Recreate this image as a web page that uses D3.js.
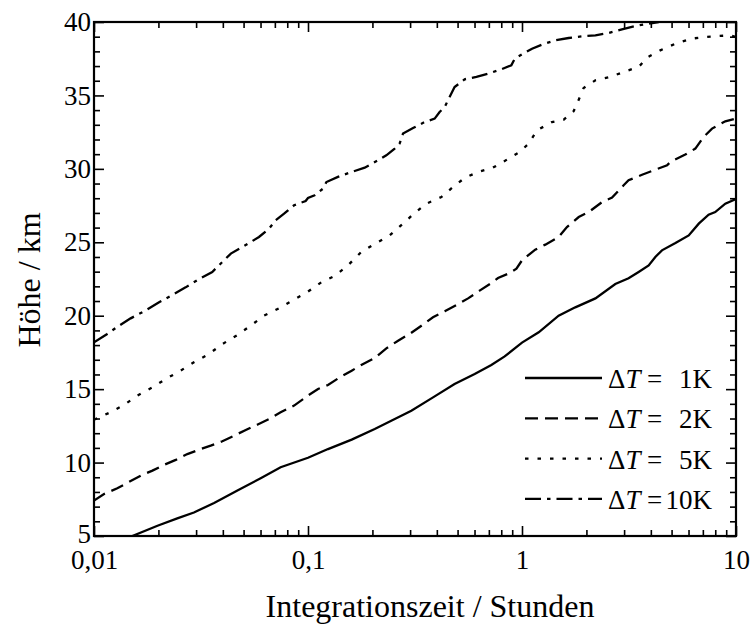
<!DOCTYPE html>
<html><head><meta charset="utf-8">
<script src="https://cdn.jsdelivr.net/npm/d3@7"></script>
</head>
<body style="margin:0;background:#fff">
<svg id="fig" width="752" height="625" style="display:block"></svg>
<script>
// ---- data (time in hours, height in km) ----
const t1K = [0.0151,0.0198,0.0245,0.0293,0.0364,0.0468,0.0601,0.0745,0.1,0.124,0.160,0.205,0.245,0.304,0.384,0.484,0.601,0.719,0.830,1.0,1.197,1.483,1.774,2.203,2.729,3.148,3.508,3.908,4.198,4.508,5.212,6.012,6.699,7.447,7.998,8.913,10];
const h1K = [5.0,5.7,6.2,6.6,7.25,8.1,8.93,9.68,10.33,10.92,11.56,12.29,12.85,13.53,14.44,15.35,16.03,16.64,17.23,18.17,18.87,20.0,20.57,21.18,22.16,22.55,22.98,23.43,24.0,24.45,24.95,25.47,26.27,26.88,27.06,27.63,27.95];

const t2K = [0.01,0.01114,0.01285,0.01652,0.01875,0.02123,0.0241,0.0273,0.031,0.0351,0.0398,0.0451,0.0512,0.0579,0.0658,0.0745,0.0861,0.1,0.1114,0.124,0.1406,0.160,0.1774,0.205,0.2323,0.2636,0.2985,0.3388,0.3837,0.4355,0.4932,0.5598,0.6339,0.7194,0.7727,0.861,0.9419,1.0,1.153,1.285,1.483,1.622,1.841,2.051,2.366,2.636,2.985,3.148,3.639,4.121,4.764,4.932,5.794,6.457,7.063,7.727,8.913,10];
const h2K = [7.41,7.86,8.25,9.11,9.45,9.84,10.18,10.58,10.88,11.15,11.45,11.83,12.22,12.58,12.97,13.42,13.88,14.56,15.01,15.28,15.8,16.26,16.64,17.12,17.78,18.3,18.76,19.32,19.89,20.3,20.73,21.18,21.71,22.23,22.57,22.86,23.2,23.77,24.5,24.84,25.36,26.04,26.72,27.06,27.74,28.04,28.88,29.22,29.6,29.9,30.24,30.47,30.97,31.38,32.17,32.74,33.24,33.42];

const t5K = [0.01,0.01175,0.0138,0.01596,0.01875,0.02163,0.0254,0.0293,0.0344,0.0398,0.0468,0.054,0.0622,0.0731,0.0861,0.1,0.1153,0.1334,0.1538,0.1774,0.2084,0.241,0.278,0.3126,0.3573,0.4198,0.4764,0.5395,0.6223,0.7311,0.830,0.975,1.074,1.175,1.380,1.567,1.742,1.841,1.941,2.203,2.588,2.985,3.508,3.882,4.426,5.212,6.223,7.194,8.299,9.419,10];
const h5K = [12.92,13.38,13.92,14.56,15.12,15.69,16.26,16.83,17.39,18.07,18.69,19.32,20.0,20.5,21.09,21.64,22.27,22.71,23.43,24.34,24.95,25.47,26.27,26.95,27.63,28.08,28.77,29.38,29.79,30.08,30.54,31.15,31.72,32.62,33.19,33.35,33.92,34.71,35.51,36.03,36.26,36.6,36.94,37.62,38.07,38.52,38.87,38.98,39.05,39.09,38.98];

const t10K = [0.01,0.01153,0.01309,0.01483,0.01714,0.02014,0.02366,0.0268,0.031,0.0357,0.0398,0.0436,0.0484,0.054,0.059,0.0658,0.0706,0.0773,0.0861,0.0975,0.1,0.1074,0.1175,0.1219,0.138,0.160,0.1841,0.2123,0.2323,0.2541,0.2679,0.278,0.3097,0.3508,0.3908,0.4121,0.4355,0.4508,0.4842,0.5395,0.6124,0.6934,0.7998,0.8913,0.9247,1.0,1.114,1.239,1.432,1.652,1.905,2.203,2.541,2.931,3.388,3.908,4.355];
const h10K = [18.19,18.76,19.32,19.82,20.3,20.91,21.48,21.93,22.5,22.98,23.66,24.23,24.61,25.02,25.36,25.93,26.5,26.95,27.52,27.81,28.02,28.2,28.65,29.1,29.45,29.79,30.08,30.58,30.92,31.38,31.72,32.4,32.78,33.19,33.42,33.87,34.21,34.67,35.57,36.1,36.26,36.48,36.78,37.05,37.5,37.8,38.18,38.46,38.75,38.91,39.02,39.09,39.25,39.5,39.73,39.89,40.0];

const seriesLabels = ["1K","2K","5K","10K"];
const xMajorTicks = [0.01,0.1,1,10];
const xTickLabels = ["0,01","0,1","1","10"];
const yMajorTicks = [5,10,15,20,25,30,35,40];
const xTitle = "Integrationszeit / Stunden";
const yTitle = "Höhe / km";

// ---- layout ----
const FONT = '"Times New Roman", "Liberation Serif", Tinos, "Nimbus Roman", FreeSerif';
const L = 94, R = 736, T = 22, B = 536;
const svg = d3.select("#fig");
const x = d3.scaleLog().domain([0.01,10]).range([L,R]);
const y = d3.scaleLinear().domain([5,40]).range([B,T]);

const series = [
  {t:t1K, h:h1K, dash:null},
  {t:t2K, h:h2K, dash:"13,7"},
  {t:t5K, h:h5K, dash:"3.5,9"},
  {t:t10K, h:h10K, dash:"16,6,3.5,6"}
];

svg.append("clipPath").attr("id","plotclip").append("rect")
  .attr("x",L).attr("y",T).attr("width",R-L).attr("height",B-T);

const line = d3.line().x(d=>x(d[0])).y(d=>y(d[1]));
const g = svg.append("g").attr("clip-path","url(#plotclip)");
series.forEach(s=>{
  const pts = s.t.map((tt,i)=>[tt,s.h[i]]);
  g.append("path").datum(pts).attr("d",line)
    .attr("fill","none").attr("stroke","#000").attr("stroke-width",2.3)
    .attr("stroke-dasharray",s.dash);
});

function serif(sel, size){
  sel.attr("font-family",FONT).attr("font-size",size)
    .style("font-family",FONT).style("font-size",size+"px");
  return sel;
}

// ---- axes ----
const xMinor = x.ticks().filter(v=>!xMajorTicks.includes(v));
const yMinor = d3.range(5,41,1).filter(v=>v%5!==0);
function styleAxis(sel){
  sel.attr("font-family",FONT);
  sel.select(".domain").remove();
  sel.selectAll(".tick line").attr("stroke","#000").attr("stroke-width",1.6);
  serif(sel.selectAll(".tick text"),27).attr("fill","#000");
}
// bottom
svg.append("g").attr("transform",`translate(0,${B})`)
  .call(d3.axisBottom(x).tickValues(xMinor).tickSize(-6).tickFormat(""))
  .call(styleAxis);
const xb = svg.append("g").attr("transform",`translate(0,${B})`)
  .call(d3.axisBottom(x).tickValues(xMajorTicks).tickSize(-10).tickPadding(22)
    .tickFormat((d,i)=>xTickLabels[i]))
  .call(styleAxis);
xb.selectAll(".tick text").attr("dy","0.4em");
// top
svg.append("g").attr("transform",`translate(0,${T})`)
  .call(d3.axisTop(x).tickValues(xMinor).tickSize(-6).tickFormat(""))
  .call(styleAxis);
svg.append("g").attr("transform",`translate(0,${T})`)
  .call(d3.axisTop(x).tickValues(xMajorTicks).tickSize(-10).tickFormat(""))
  .call(styleAxis);
// left
svg.append("g").attr("transform",`translate(${L},0)`)
  .call(d3.axisLeft(y).tickValues(yMinor).tickSize(-6).tickFormat(""))
  .call(styleAxis);
const yl = svg.append("g").attr("transform",`translate(${L},0)`)
  .call(d3.axisLeft(y).tickValues(yMajorTicks).tickSize(-10).tickPadding(3).tickFormat(d3.format("d")))
  .call(styleAxis);
yl.selectAll(".tick text").filter(d=>d===5).attr("dy","0.25em");
// right
svg.append("g").attr("transform",`translate(${R},0)`)
  .call(d3.axisRight(y).tickValues(yMinor).tickSize(-6).tickFormat(""))
  .call(styleAxis);
svg.append("g").attr("transform",`translate(${R},0)`)
  .call(d3.axisRight(y).tickValues(yMajorTicks).tickSize(-10).tickFormat(""))
  .call(styleAxis);

// frame
svg.append("rect").attr("x",L).attr("y",T).attr("width",R-L).attr("height",B-T)
  .attr("fill","none").attr("stroke","#000").attr("stroke-width",2.2);

// titles
serif(svg.append("text").attr("x",430).attr("y",617).attr("text-anchor","middle"),32).text(xTitle);
serif(svg.append("text").attr("transform","translate(40,280) rotate(-90)")
  .attr("text-anchor","middle"),32).text(yTitle);

// legend
const legY0 = 378, legDy = 40.3;
series.forEach((s,i)=>{
  const yy = legY0 + i*legDy;
  svg.append("line").attr("x1",525).attr("x2",602).attr("y1",yy).attr("y2",yy)
    .attr("stroke","#000").attr("stroke-width",2.3).attr("stroke-dasharray",s.dash);
  const tx = serif(svg.append("text").attr("x",608).attr("y",yy+10),27);
  tx.append("tspan").text("Δ");
  tx.append("tspan").attr("font-style","italic").style("font-style","italic").text("T");
  serif(svg.append("text").attr("x",647).attr("y",yy+10),27).text("=");
  serif(svg.append("text").attr("x",712).attr("y",yy+10).attr("text-anchor","end"),27)
    .text(seriesLabels[i]);
});
</script>
</body></html>
